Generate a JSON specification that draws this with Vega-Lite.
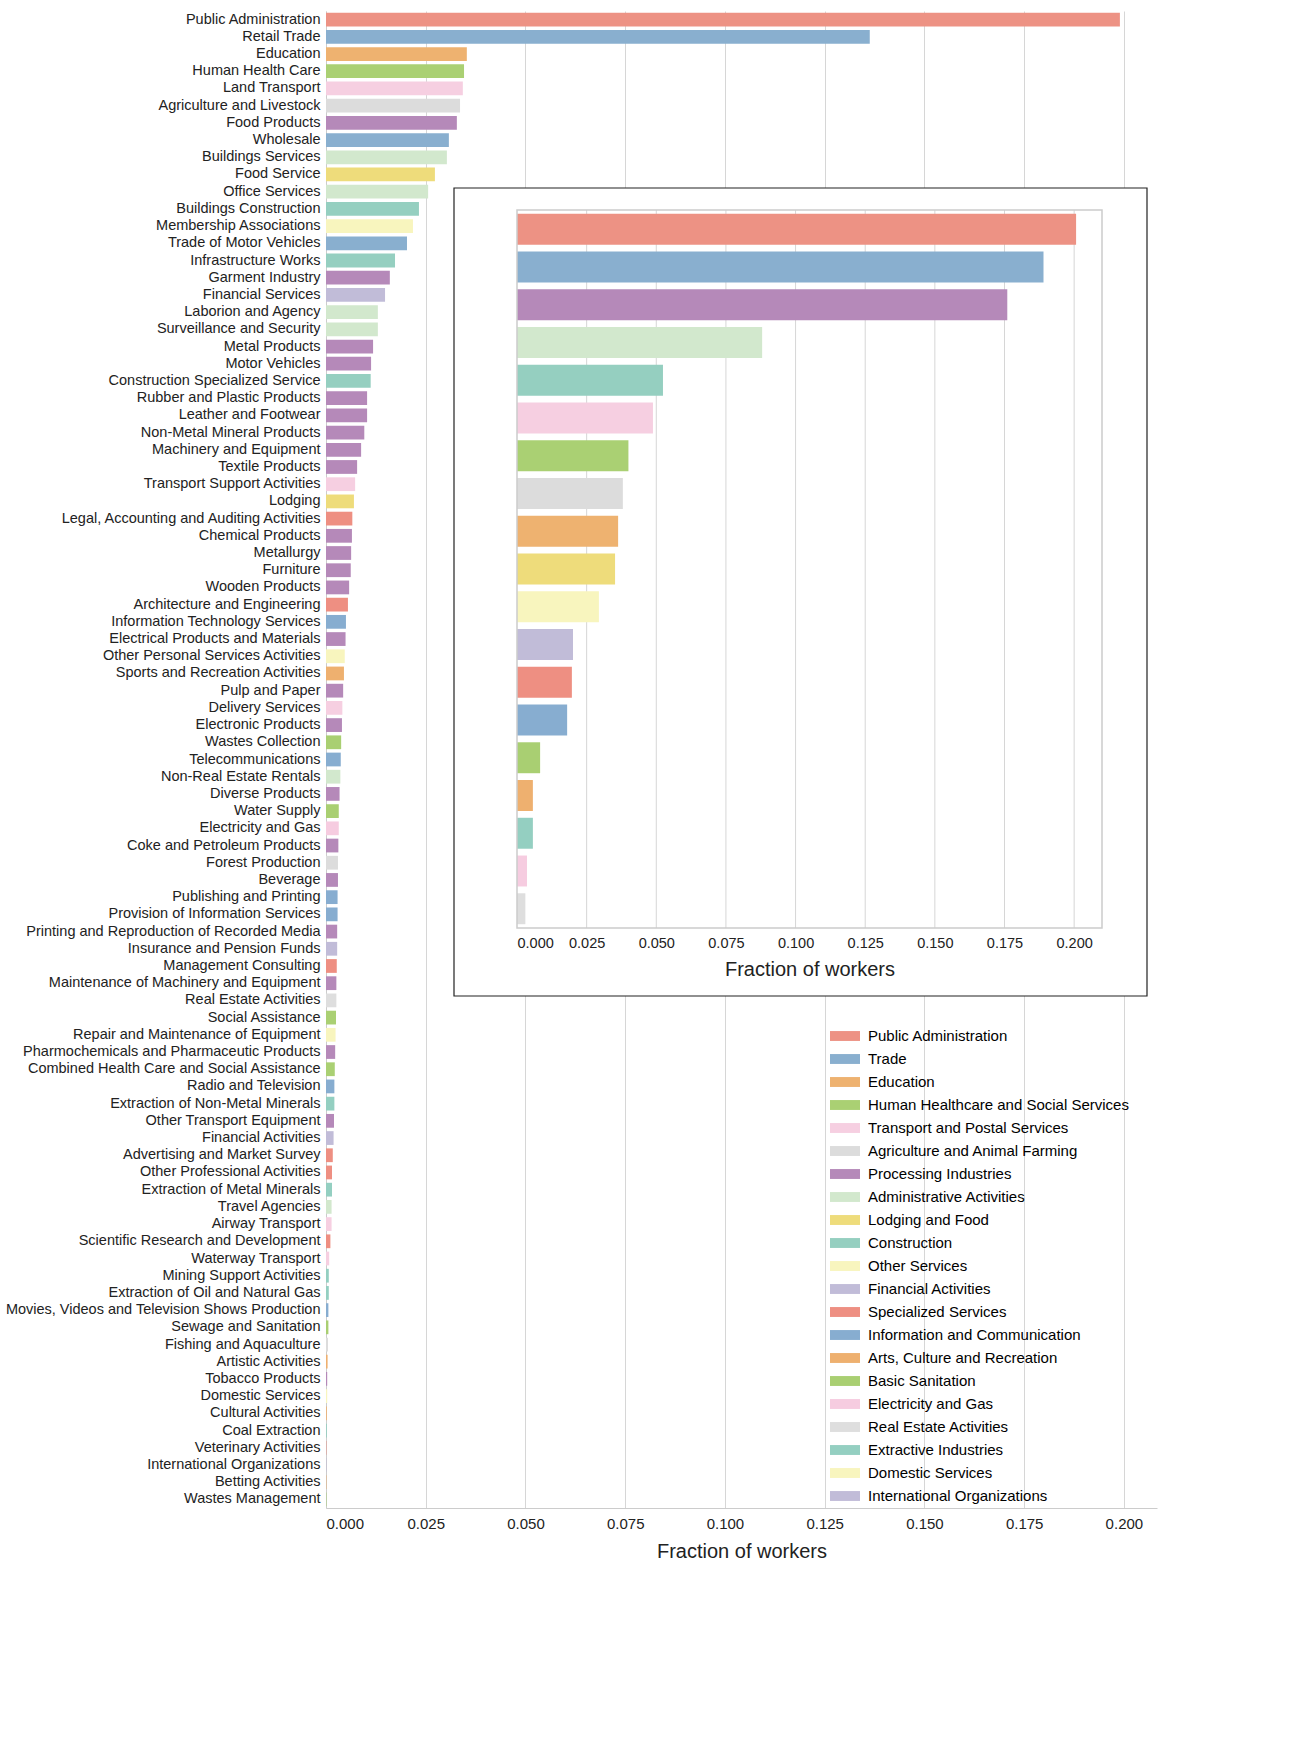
{
  "$schema": "https://vega.github.io/schema/vega-lite/v6.json",
  "width": 831,
  "height": 1497,
  "padding": {"left": 5, "top": 11, "right": 5, "bottom": 5},
  "background": "white",
  "config": {
    "font": "Liberation Sans",
    "view": {"stroke": null},
    "axis": {"labelFont": "Liberation Sans", "titleFont": "Liberation Sans", "labelColor": "#222", "titleColor": "#222", "domainColor": "#cccccc", "gridColor": "#d6d6d6", "ticks": false},
    "legend": {"labelFont": "Liberation Sans"}
  },
  "datasets": {
    "main": [
      {"name": "Public Administration", "group": "Public Administration", "v": 0.199},
      {"name": "Retail Trade", "group": "Trade", "v": 0.1363},
      {"name": "Education", "group": "Education", "v": 0.0353},
      {"name": "Human Health Care", "group": "Human Healthcare and Social Services", "v": 0.0346},
      {"name": "Land Transport", "group": "Transport and Postal Services", "v": 0.0343},
      {"name": "Agriculture and Livestock", "group": "Agriculture and Animal Farming", "v": 0.0336},
      {"name": "Food Products", "group": "Processing Industries", "v": 0.0328},
      {"name": "Wholesale", "group": "Trade", "v": 0.0308},
      {"name": "Buildings Services", "group": "Administrative Activities", "v": 0.0303},
      {"name": "Food Service", "group": "Lodging and Food", "v": 0.0273},
      {"name": "Office Services", "group": "Administrative Activities", "v": 0.0256},
      {"name": "Buildings Construction", "group": "Construction", "v": 0.0233},
      {"name": "Membership Associations", "group": "Other Services", "v": 0.0218},
      {"name": "Trade of Motor Vehicles", "group": "Trade", "v": 0.0203},
      {"name": "Infrastructure Works", "group": "Construction", "v": 0.0173},
      {"name": "Garment Industry", "group": "Processing Industries", "v": 0.016},
      {"name": "Financial Services", "group": "Financial Activities", "v": 0.0148},
      {"name": "Laborion and Agency", "group": "Administrative Activities", "v": 0.013},
      {"name": "Surveillance and Security", "group": "Administrative Activities", "v": 0.013},
      {"name": "Metal Products", "group": "Processing Industries", "v": 0.0118},
      {"name": "Motor Vehicles", "group": "Processing Industries", "v": 0.0113},
      {"name": "Construction Specialized Service", "group": "Construction", "v": 0.0112},
      {"name": "Rubber and Plastic Products", "group": "Processing Industries", "v": 0.0103},
      {"name": "Leather and Footwear", "group": "Processing Industries", "v": 0.0103},
      {"name": "Non-Metal Mineral Products", "group": "Processing Industries", "v": 0.0096},
      {"name": "Machinery and Equipment", "group": "Processing Industries", "v": 0.0088},
      {"name": "Textile Products", "group": "Processing Industries", "v": 0.0078},
      {"name": "Transport Support Activities", "group": "Transport and Postal Services", "v": 0.0073},
      {"name": "Lodging", "group": "Lodging and Food", "v": 0.007},
      {"name": "Legal, Accounting and Auditing Activities", "group": "Specialized Services", "v": 0.0066},
      {"name": "Chemical Products", "group": "Processing Industries", "v": 0.0065},
      {"name": "Metallurgy", "group": "Processing Industries", "v": 0.0063},
      {"name": "Furniture", "group": "Processing Industries", "v": 0.0062},
      {"name": "Wooden Products", "group": "Processing Industries", "v": 0.0058},
      {"name": "Architecture and Engineering", "group": "Specialized Services", "v": 0.0055},
      {"name": "Information Technology Services", "group": "Information and Communication", "v": 0.005},
      {"name": "Electrical Products and Materials", "group": "Processing Industries", "v": 0.0049},
      {"name": "Other Personal Services Activities", "group": "Other Services", "v": 0.0047},
      {"name": "Sports and Recreation Activities", "group": "Arts, Culture and Recreation", "v": 0.0045},
      {"name": "Pulp and Paper", "group": "Processing Industries", "v": 0.0043},
      {"name": "Delivery Services", "group": "Transport and Postal Services", "v": 0.0041},
      {"name": "Electronic Products", "group": "Processing Industries", "v": 0.004},
      {"name": "Wastes Collection", "group": "Basic Sanitation", "v": 0.0038},
      {"name": "Telecommunications", "group": "Information and Communication", "v": 0.0037},
      {"name": "Non-Real Estate Rentals", "group": "Administrative Activities", "v": 0.0036},
      {"name": "Diverse Products", "group": "Processing Industries", "v": 0.0034},
      {"name": "Water Supply", "group": "Basic Sanitation", "v": 0.0032},
      {"name": "Electricity and Gas", "group": "Electricity and Gas", "v": 0.0032},
      {"name": "Coke and Petroleum Products", "group": "Processing Industries", "v": 0.0031},
      {"name": "Forest Production", "group": "Agriculture and Animal Farming", "v": 0.003},
      {"name": "Beverage", "group": "Processing Industries", "v": 0.003},
      {"name": "Publishing and Printing", "group": "Information and Communication", "v": 0.0029},
      {"name": "Provision of Information Services", "group": "Information and Communication", "v": 0.0029},
      {"name": "Printing and Reproduction of Recorded Media", "group": "Processing Industries", "v": 0.0028},
      {"name": "Insurance and Pension Funds", "group": "Financial Activities", "v": 0.0028},
      {"name": "Management Consulting", "group": "Specialized Services", "v": 0.0027},
      {"name": "Maintenance of Machinery and Equipment", "group": "Processing Industries", "v": 0.0026},
      {"name": "Real Estate Activities", "group": "Real Estate Activities", "v": 0.0026},
      {"name": "Social Assistance", "group": "Human Healthcare and Social Services", "v": 0.0025},
      {"name": "Repair and Maintenance of Equipment", "group": "Other Services", "v": 0.0024},
      {"name": "Pharmochemicals and Pharmaceutic Products", "group": "Processing Industries", "v": 0.0023},
      {"name": "Combined Health Care and Social Assistance", "group": "Human Healthcare and Social Services", "v": 0.0022},
      {"name": "Radio and Television", "group": "Information and Communication", "v": 0.0021},
      {"name": "Extraction of Non-Metal Minerals", "group": "Extractive Industries", "v": 0.0021},
      {"name": "Other Transport Equipment", "group": "Processing Industries", "v": 0.002},
      {"name": "Financial Activities", "group": "Financial Activities", "v": 0.0019},
      {"name": "Advertising and Market Survey", "group": "Specialized Services", "v": 0.0017},
      {"name": "Other Professional Activities", "group": "Specialized Services", "v": 0.0015},
      {"name": "Extraction of Metal Minerals", "group": "Extractive Industries", "v": 0.0015},
      {"name": "Travel Agencies", "group": "Administrative Activities", "v": 0.0014},
      {"name": "Airway Transport", "group": "Transport and Postal Services", "v": 0.0014},
      {"name": "Scientific Research and Development", "group": "Specialized Services", "v": 0.0011},
      {"name": "Waterway Transport", "group": "Transport and Postal Services", "v": 0.0008},
      {"name": "Mining Support Activities", "group": "Extractive Industries", "v": 0.0007},
      {"name": "Extraction of Oil and Natural Gas", "group": "Extractive Industries", "v": 0.0007},
      {"name": "Movies, Videos and Television Shows Production", "group": "Information and Communication", "v": 0.0006},
      {"name": "Sewage and Sanitation", "group": "Basic Sanitation", "v": 0.0006},
      {"name": "Fishing and Aquaculture", "group": "Agriculture and Animal Farming", "v": 0.0005},
      {"name": "Artistic Activities", "group": "Arts, Culture and Recreation", "v": 0.0004},
      {"name": "Tobacco Products", "group": "Processing Industries", "v": 0.0003},
      {"name": "Domestic Services", "group": "Domestic Services", "v": 0.0003},
      {"name": "Cultural Activities", "group": "Arts, Culture and Recreation", "v": 0.0002},
      {"name": "Coal Extraction", "group": "Extractive Industries", "v": 0.0002},
      {"name": "Veterinary Activities", "group": "Specialized Services", "v": 0.0001},
      {"name": "International Organizations", "group": "International Organizations", "v": 0.0001},
      {"name": "Betting Activities", "group": "Arts, Culture and Recreation", "v": 0.0001},
      {"name": "Wastes Management", "group": "Basic Sanitation", "v": 0.0001}
    ],
    "inset": [
      {"group": "Public Administration", "v": 0.2007},
      {"group": "Trade", "v": 0.189},
      {"group": "Processing Industries", "v": 0.176},
      {"group": "Administrative Activities", "v": 0.088},
      {"group": "Construction", "v": 0.0524},
      {"group": "Transport and Postal Services", "v": 0.0488},
      {"group": "Human Healthcare and Social Services", "v": 0.04},
      {"group": "Agriculture and Animal Farming", "v": 0.038},
      {"group": "Education", "v": 0.0363},
      {"group": "Lodging and Food", "v": 0.0352},
      {"group": "Other Services", "v": 0.0294},
      {"group": "Financial Activities", "v": 0.0201},
      {"group": "Specialized Services", "v": 0.0197},
      {"group": "Information and Communication", "v": 0.018},
      {"group": "Basic Sanitation", "v": 0.0083},
      {"group": "Arts, Culture and Recreation", "v": 0.0057},
      {"group": "Extractive Industries", "v": 0.0057},
      {"group": "Electricity and Gas", "v": 0.0036},
      {"group": "Real Estate Activities", "v": 0.003}
    ],
    "box": [{"a": 0, "b": 1}],
    "grid": [
      {"t": 0.025, "a": 0, "b": 1}, {"t": 0.05, "a": 0, "b": 1}, {"t": 0.075, "a": 0, "b": 1},
      {"t": 0.1, "a": 0, "b": 1}, {"t": 0.125, "a": 0, "b": 1}, {"t": 0.15, "a": 0, "b": 1},
      {"t": 0.175, "a": 0, "b": 1}, {"t": 0.2, "a": 0, "b": 1}
    ]
  },
  "resolve": {"scale": {"x": "independent", "y": "independent"}, "axis": {"x": "independent", "y": "independent"}},
  "layer": [
    {
      "data": {"name": "main"},
      "mark": {"type": "bar"},
      "encoding": {
        "y": {"field": "name", "type": "nominal", "sort": null, "scale": {"paddingInner": 0.2, "paddingOuter": 0.1},
          "axis": {"title": null, "labelFontSize": 14.5, "labelPadding": 6, "labelLimit": 400, "domain": true}},
        "x": {"field": "v", "type": "quantitative", "scale": {"domain": [0, 0.2083], "nice": false},
          "axis": {"orient": "bottom", "values": [0, 0.025, 0.05, 0.075, 0.1, 0.125, 0.15, 0.175, 0.2], "format": ".3f", "labelFontSize": 15, "title": "Fraction of workers", "titleFontSize": 20, "titleFontWeight": "normal", "titlePadding": 10, "grid": true, "labelPadding": 8}},
        "color": {"field": "group", "type": "nominal",
          "scale": {
            "domain": ["Public Administration", "Trade", "Education", "Human Healthcare and Social Services", "Transport and Postal Services", "Agriculture and Animal Farming", "Processing Industries", "Administrative Activities", "Lodging and Food", "Construction", "Other Services", "Financial Activities", "Specialized Services", "Information and Communication", "Arts, Culture and Recreation", "Basic Sanitation", "Electricity and Gas", "Real Estate Activities", "Extractive Industries", "Domestic Services", "International Organizations"],
            "range": ["#ed9284", "#89afcf", "#eeb270", "#aad073", "#f6cfe1", "#dcdcdc", "#b589b9", "#d2e8cd", "#eedc7b", "#95cfc0", "#f8f5be", "#c1bcd8", "#ee8f82", "#87add0", "#eeb06f", "#a9cf72", "#f6cce0", "#dedede", "#94cfc1", "#f8f5be", "#c1bcd8"]
          },
          "legend": {"orient": "none", "legendX": 504, "legendY": 1010, "title": null, "labelFontSize": 15, "symbolType": "M-1,-0.33H1V0.33H-1Z", "symbolSize": 900, "symbolStrokeWidth": 0, "rowPadding": -3, "labelOffset": 8, "labelLimit": 400}
        }
      }
    },
    {
      "data": {"name": "box"},
      "mark": {"type": "rect", "fill": "white", "stroke": "#222", "strokeWidth": 1.2},
      "encoding": {
        "x": {"field": "a", "type": "quantitative", "scale": {"domain": [0, 1], "range": [128, 821]}, "axis": null},
        "x2": {"field": "b"},
        "y": {"field": "a", "type": "quantitative", "scale": {"domain": [0, 1], "range": [177, 985]}, "axis": null},
        "y2": {"field": "b"}
      }
    },
    {
      "data": {"name": "grid"},
      "mark": {"type": "rule", "color": "#d6d6d6", "strokeWidth": 1},
      "encoding": {
        "x": {"field": "t", "type": "quantitative", "scale": {"domain": [0, 0.21], "range": [191, 776]}, "axis": null},
        "y": {"field": "a", "type": "quantitative", "scale": {"domain": [0, 1], "range": [199, 917]}, "axis": null},
        "y2": {"field": "b"}
      }
    },
    {
      "data": {"name": "inset"},
      "mark": {"type": "bar"},
      "encoding": {
        "y": {"field": "group", "type": "nominal", "sort": null, "scale": {"range": [199, 917], "paddingInner": 0.18, "paddingOuter": 0.1}, "axis": null},
        "x": {"field": "v", "type": "quantitative", "scale": {"domain": [0, 0.21], "range": [191, 776], "nice": false},
          "axis": {"orient": "bottom", "offset": -580, "zindex": 2, "values": [0, 0.025, 0.05, 0.075, 0.1, 0.125, 0.15, 0.175, 0.2], "format": ".3f", "labelFontSize": 14.5, "title": "Fraction of workers", "titleFontSize": 20, "titleFontWeight": "normal", "titlePadding": 10, "grid": false, "domain": false, "labelPadding": 8}},
        "color": {"field": "group", "type": "nominal", "legend": null}
      }
    },
    {
      "data": {"name": "box"},
      "mark": {"type": "rect", "fill": null, "stroke": "#cccccc", "strokeWidth": 1.5},
      "encoding": {
        "x": {"field": "a", "type": "quantitative", "scale": {"domain": [0, 1], "range": [191, 776]}, "axis": null},
        "x2": {"field": "b"},
        "y": {"field": "a", "type": "quantitative", "scale": {"domain": [0, 1], "range": [199, 917]}, "axis": null},
        "y2": {"field": "b"}
      }
    }
  ]
}
